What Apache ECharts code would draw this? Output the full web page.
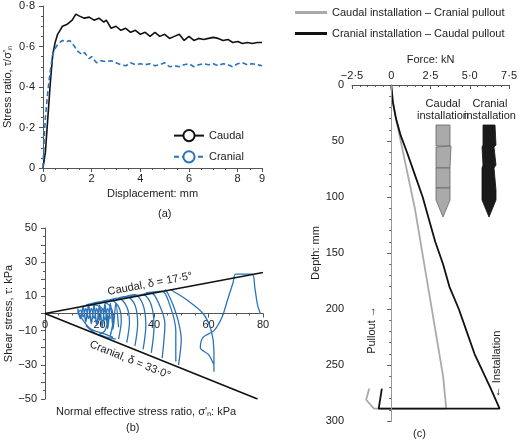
<!DOCTYPE html>
<html>
<head>
<meta charset="utf-8">
<script src="https://cdn.jsdelivr.net/npm/echarts@6/dist/echarts.min.js"></script>
<style>
  html, body { margin: 0; padding: 0; background: #fff; }
  #chart { width: 520px; height: 441px; }
</style>
</head>
<body>
<div id="chart"></div>
<script>
// (a) stress ratio vs displacement
const caudalA = [[0,0],[0.1,0.08],[0.2,0.25],[0.3,0.42],[0.4,0.56],[0.5,0.62],[0.6,0.66],[0.7,0.68],[0.8,0.7],[1.0,0.71],[1.2,0.73],[1.35,0.76],[1.5,0.75],[1.7,0.74],[1.9,0.745],[2.1,0.73],[2.3,0.74],[2.5,0.72],[2.6,0.73],[2.8,0.69],[3.0,0.7],[3.2,0.68],[3.4,0.69],[3.6,0.67],[3.8,0.68],[4.0,0.66],[4.2,0.67],[4.4,0.65],[4.6,0.67],[4.8,0.65],[5.0,0.66],[5.2,0.64],[5.4,0.65],[5.6,0.66],[5.8,0.63],[6.0,0.65],[6.2,0.63],[6.4,0.64],[6.6,0.635],[6.8,0.64],[7.0,0.645],[7.2,0.64],[7.4,0.63],[7.6,0.635],[7.8,0.62],[8.0,0.625],[8.2,0.615],[8.4,0.62],[8.6,0.615],[8.8,0.62],[9.0,0.62]];
const cranialA = [[0,0],[0.05,0.15],[0.1,0.25],[0.2,0.38],[0.3,0.48],[0.4,0.56],[0.5,0.59],[0.6,0.61],[0.7,0.62],[0.8,0.63],[1.0,0.625],[1.1,0.63],[1.3,0.6],[1.4,0.58],[1.6,0.56],[1.7,0.57],[1.9,0.54],[2.0,0.55],[2.2,0.52],[2.4,0.53],[2.6,0.525],[2.8,0.53],[3.0,0.52],[3.2,0.51],[3.4,0.505],[3.6,0.52],[3.8,0.51],[4.0,0.515],[4.2,0.51],[4.4,0.515],[4.6,0.505],[4.8,0.51],[5.0,0.52],[5.2,0.5],[5.4,0.505],[5.6,0.5],[5.8,0.51],[6.0,0.515],[6.2,0.5],[6.4,0.51],[6.6,0.515],[6.8,0.51],[7.0,0.515],[7.2,0.505],[7.4,0.515],[7.6,0.51],[7.8,0.5],[8.0,0.515],[8.2,0.52],[8.4,0.51],[8.6,0.515],[8.8,0.51],[9.0,0.505]];

// (b) stress paths
const caudalBound = [[0,0],[80,24]];
const cranialBound = [[0,0],[78,-50]];
const stressPaths = [
  [12,2],[13,-3],[14,3],[15,-5],[16,4],[17,-6],[18,4],[19,-7],[20,4],[21,-8],[22,5],[23,-9],[24,4],[25,-6],[24,-12],'-',
  [12,3],[13,-2],[14,4],[15,-4],[16,5],[17,-5],[18,5],[19,-6],[20,5],[21,-7],[22,6],[23,-8],[24,6],[25,-9],[26,6],[27,-8],'-',
  [12,0],[13,2],[14,-2],[15,3],[16,-3],[17,3],[18,-3],[19,3],[20,-4],[21,3],[22,-4],[23,3],[24,-3],'-',
  [12,1],[14,-4],[16,-8],[18,-10],[20,-11],[22,-12],[25,-14],'-',
  [15,-7],[17,-10],[19,-12],[21,-13],[23,-14],[26,-15],'-',
  [13,4],[18,5],[21,3],[23,-2],[22,-10],[20,-12],'-',
  [15,5],[21,7],[24,4],[25,-3],[24,-13],'-',
  [17,5],[24,8],[27,4],[28,-4],[27,-15],'-',
  [20,6],[27,9],[30,4],[31,-5],[30,-17],'-',
  [23,7],[30,10],[33,5],[34,-6],[33,-19],'-',
  [26,8],[33,11],[36,5],[37,-7],[36,-21],'-',
  [29,9],[36,11],[39,5],[40,-8],[39,-23],'-',
  [33,10],[39,12],[42,5],[44,-6],[43,-26],'-',
  [37,12],[43,13],[46,4],[48,-10],[48,-28],'-',
  [44,14],[45,12],[47,5],[49,-5],[50,-15],[49,-30],'-',
  [46,14],[52,8],[58,0],[61,-10],[62,-22],[62,-34],'-',
  [62,-30],[60,-24],[57,-20],[58,-14],[62,-10],[65,-2],[67,8],[69,18],[70,23],[76,23],[77,15],[78,5],[79,0]
];

// (c) force vs depth
const cranialInstCaudalPull = [[0,0],[0.1,15],[0.3,30],[0.6,45],[1.0,60],[1.5,80],[2.0,100],[2.4,120],[2.8,140],[3.3,160],[3.7,180],[4.3,200],[4.8,220],[5.3,240],[5.8,255],[6.3,270],[6.9,289],[-0.8,289],[-0.6,271]];
const caudalInstCranialPull = [[0,0],[0.1,15],[0.3,30],[0.6,50],[0.9,70],[1.2,90],[1.5,110],[1.8,135],[2.1,160],[2.4,185],[2.7,210],[3.0,235],[3.3,260],[3.5,289],[-1.1,289],[-1.6,281],[-1.4,271]];

const font = 'Liberation Sans';
const axisCol = '#555';

const chart = echarts.init(document.getElementById('chart'));
const dotted = v => String(v).replace('.', '·').replace('-', '−');

chart.setOption({
  animation: false,
  textStyle: { fontFamily: font },
  grid: [
    { left: 43, top: 6, width: 219, height: 162 },
    { left: 45, top: 228, width: 218, height: 171 },
    { left: 352, top: 85, width: 160, height: 336 }
  ],
  legend: [
    {
      left: 168, top: 124, orient: 'vertical', itemGap: 8, itemWidth: 30,
      textStyle: { fontSize: 11, color: '#222' },
      data: ['Caudal', 'Cranial']
    },
    {
      left: 290, top: 2, orient: 'vertical', itemGap: 10, itemWidth: 32, itemHeight: 3,
      icon: 'rect', textStyle: { fontSize: 11, color: '#222' },
      data: ['Caudal installation – Cranial pullout', 'Cranial installation – Caudal pullout']
    }
  ],
  xAxis: [
    {
      gridIndex: 0, type: 'value', min: 0, max: 9, interval: 2,
      name: 'Displacement: mm', nameLocation: 'middle', nameGap: 20,
      nameTextStyle: { fontSize: 11, color: '#222' },
      axisLine: { lineStyle: { color: axisCol } }, axisTick: { length: 4 },
      minorTick: { show: true, splitNumber: 4, length: 2 },
      axisLabel: { fontSize: 11, color: '#222', margin: 5 }, splitLine: { show: false }
    },
    {
      gridIndex: 1, type: 'value', min: 0, max: 80, interval: 20, offset: -85.5,
      axisLine: { onZero: false, lineStyle: { color: axisCol } }, axisTick: { length: 4 },
      minorTick: { show: true, splitNumber: 4, length: 2 },
      axisLabel: { fontSize: 11, color: '#222', margin: 6 }, splitLine: { show: false }
    },
    {
      gridIndex: 2, type: 'value', min: -2.5, max: 7.5, interval: 2.5, position: 'top',
      name: 'Force: kN', nameLocation: 'middle', nameGap: 20,
      nameTextStyle: { fontSize: 11, color: '#222' },
      axisLine: { lineStyle: { color: axisCol } }, axisTick: { length: 4, inside: true },
      minorTick: { show: true, splitNumber: 5, length: 2 },
      axisLabel: { fontSize: 11, color: '#222', margin: 4, formatter: v => v === 0 ? '0' : dotted(v.toFixed(1)) },
      splitLine: { show: false }
    }
  ],
  yAxis: [
    {
      gridIndex: 0, type: 'value', min: 0, max: 0.8, interval: 0.2,
      name: "Stress ratio, τ/σ'ₙ", nameLocation: 'middle', nameGap: 30,
      nameTextStyle: { fontSize: 11, color: '#222' },
      axisLine: { show: true, lineStyle: { color: axisCol } }, axisTick: { show: true, length: 4 },
      minorTick: { show: true, splitNumber: 4, length: 2 },
      axisLabel: { fontSize: 11, color: '#222', formatter: v => v === 0 ? '0' : dotted(v.toFixed(1)) },
      splitLine: { show: false }
    },
    {
      gridIndex: 1, type: 'value', min: -50, max: 50, interval: 10,
      name: 'Shear stress, τ: kPa', nameLocation: 'middle', nameGap: 30,
      nameTextStyle: { fontSize: 11, color: '#222' },
      axisLine: { show: true, onZero: false, lineStyle: { color: axisCol } }, axisTick: { show: true, length: 4 },
      minorTick: { show: true, splitNumber: 2, length: 2 },
      axisLabel: { fontSize: 11, color: '#222', formatter: v => ((v + 50) % 20 === 0 ? dotted(v) : '') },
      splitLine: { show: false }
    },
    {
      gridIndex: 2, type: 'value', min: 0, max: 300, interval: 50, inverse: true,
      name: 'Depth: mm', nameLocation: 'middle', nameGap: 30,
      nameTextStyle: { fontSize: 11, color: '#222' },
      axisLine: { show: true, lineStyle: { color: axisCol } }, axisTick: { show: true, length: 4 },
      minorTick: { show: true, splitNumber: 5, length: 2 },
      axisLabel: { fontSize: 11, color: '#222' }, splitLine: { show: false }
    }
  ],
  series: [
    { name: 'Caudal', type: 'line', xAxisIndex: 0, yAxisIndex: 0, data: caudalA, showSymbol: false, lineStyle: { color: '#111', width: 1.6 }, itemStyle: { color: '#111' } },
    { name: 'Cranial', type: 'line', xAxisIndex: 0, yAxisIndex: 0, data: cranialA, showSymbol: false, lineStyle: { color: '#2b73b8', width: 1.6, type: [5, 3] }, itemStyle: { color: '#2b73b8' } },
    { type: 'line', xAxisIndex: 1, yAxisIndex: 1, data: stressPaths, showSymbol: false, connectNulls: false, smooth: 0.3, lineStyle: { color: '#2b73b8', width: 1.3 } },
    { type: 'line', xAxisIndex: 1, yAxisIndex: 1, data: caudalBound, showSymbol: false, lineStyle: { color: '#111', width: 1.6 } },
    { type: 'line', xAxisIndex: 1, yAxisIndex: 1, data: cranialBound, showSymbol: false, lineStyle: { color: '#111', width: 1.6 } },
    {
      name: 'Caudal installation – Cranial pullout', type: 'line', xAxisIndex: 2, yAxisIndex: 2,
      data: caudalInstCranialPull, showSymbol: false, lineStyle: { color: '#aaa', width: 1.8 }, itemStyle: { color: '#aaa' },
      markLine: { silent: true, symbol: 'none', label: { show: false }, lineStyle: { color: '#999', width: 1, type: 'solid' }, data: [{ xAxis: 0 }] }
    },
    {
      name: 'Cranial installation – Caudal pullout', type: 'line', xAxisIndex: 2, yAxisIndex: 2,
      data: cranialInstCaudalPull, showSymbol: false, lineStyle: { color: '#111', width: 1.8 }, itemStyle: { color: '#111' }
    }
  ],
  graphic: [
    { type: 'text', style: { text: '(a)', x: 158, y: 208, fontSize: 11, fill: '#222', fontFamily: font } },
    { type: 'text', style: { text: 'Normal effective stress ratio, σ\'ₙ: kPa', x: 56, y: 406, fontSize: 11, fill: '#222', fontFamily: font } },
    { type: 'text', style: { text: '(b)', x: 126, y: 422, fontSize: 11, fill: '#222', fontFamily: font } },
    { type: 'text', style: { text: '(c)', x: 413, y: 428, fontSize: 11, fill: '#222', fontFamily: font } },
    { type: 'text', x: 150, y: 284, rotation: 0.19, style: { text: 'Caudal, δ = 17·5°', align: 'center', verticalAlign: 'middle', fontSize: 11, fill: '#222', fontFamily: font } },
    { type: 'text', x: 130, y: 360, rotation: -0.38, style: { text: 'Cranial, δ = 33·0°', align: 'center', verticalAlign: 'middle', fontSize: 11, fill: '#222', fontFamily: font } },
    { type: 'text', style: { text: 'Caudal\ninstallation', x: 443, y: 98, align: 'center', fontSize: 11, lineHeight: 12, fill: '#222', fontFamily: font } },
    { type: 'text', style: { text: 'Cranial\ninstallation', x: 490, y: 98, align: 'center', fontSize: 11, lineHeight: 12, fill: '#222', fontFamily: font } },
    { type: 'text', x: 372, y: 330, rotation: Math.PI / 2, style: { text: 'Pullout →', align: 'center', verticalAlign: 'middle', fontSize: 11, fill: '#222', fontFamily: font } },
    { type: 'text', x: 497, y: 364, rotation: Math.PI / 2, style: { text: '← Installation', align: 'center', verticalAlign: 'middle', fontSize: 11, fill: '#222', fontFamily: font } },
    // probe sketches
    { type: 'polygon', shape: { points: [[436,125],[450,125],[450,146],[436,146]] }, style: { fill: '#aaa', stroke: '#666', lineWidth: 0.8 } },
    { type: 'polygon', shape: { points: [[436,147],[451,146],[450,168],[436,168]] }, style: { fill: '#aaa', stroke: '#666', lineWidth: 0.8 } },
    { type: 'polygon', shape: { points: [[436,168],[450,168],[450,188],[436,188]] }, style: { fill: '#aaa', stroke: '#666', lineWidth: 0.8 } },
    { type: 'polygon', shape: { points: [[436,188],[450,188],[450,200],[443,217],[436,200]] }, style: { fill: '#aaa', stroke: '#666', lineWidth: 0.8 } },
    { type: 'polygon', shape: { points: [[483,125],[495,125],[496,145],[494,147],[496,165],[494,168],[496,190],[496,200],[489,217],[482,200],[482,168],[483,165],[482,147],[483,145]] }, style: { fill: '#1a1a1a', stroke: '#111', lineWidth: 0.8 } }
  ]
});
</script>
</body>
</html>
